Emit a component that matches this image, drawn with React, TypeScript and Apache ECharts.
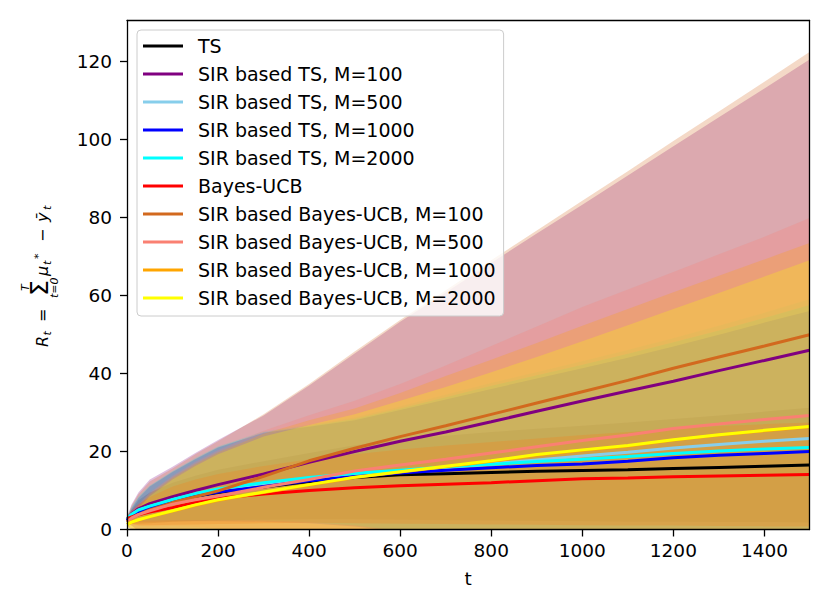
import React, { useEffect, useRef } from "react";
import * as echarts from "echarts";

// time steps
const T = [0, 10, 25, 50, 100, 150, 200, 300, 400, 500, 600, 700, 800, 900, 1000, 1100, 1200, 1300, 1400, 1499];
const X_TICKS = [0, 200, 400, 600, 800, 1000, 1200, 1400];
const Y_TICKS = [0, 20, 40, 60, 80, 100, 120];

const NAMES = [
  "TS",
  "SIR based TS, M=100",
  "SIR based TS, M=500",
  "SIR based TS, M=1000",
  "SIR based TS, M=2000",
  "Bayes-UCB",
  "SIR based Bayes-UCB, M=100",
  "SIR based Bayes-UCB, M=500",
  "SIR based Bayes-UCB, M=1000",
  "SIR based Bayes-UCB, M=2000",
];
const COLORS = ["#000000", "#800080", "#87CEEB", "#0000FF", "#00FFFF", "#FF0000", "#D2691E", "#FA8072", "#FFA500", "#FFFF00"];

// mean regret
const tsMean = [2.0, 3.4, 4.5, 5.5, 7.3, 8.5, 9.5, 10.9, 12.3, 13.3, 14.0, 14.3, 14.6, 14.9, 15.1, 15.3, 15.6, 15.9, 16.2, 16.5];
const sirTs100Mean = [2.5, 4.0, 5.3, 6.6, 8.4, 10.0, 11.5, 14.2, 17.2, 20.0, 22.6, 25.0, 27.6, 30.3, 32.9, 35.5, 38.0, 40.7, 43.3, 45.9];
const sirTs500Mean = [2.7, 3.8, 4.9, 5.9, 7.6, 8.9, 10.1, 11.8, 13.1, 14.2, 15.0, 15.9, 16.8, 17.8, 18.8, 19.8, 20.9, 21.8, 22.6, 23.3];
const sirTs1000Mean = [2.3, 3.5, 4.6, 5.6, 7.3, 8.5, 9.6, 11.0, 12.5, 13.6, 14.5, 15.2, 15.8, 16.4, 16.8, 17.5, 18.4, 19.0, 19.5, 20.0];
const sirTs2000Mean = [2.8, 3.9, 5.0, 6.0, 7.7, 9.2, 10.4, 12.0, 13.3, 14.4, 15.2, 16.0, 16.7, 17.4, 18.0, 18.7, 19.5, 20.1, 20.6, 21.0];
const bucbMean = [2.8, 3.2, 3.8, 4.5, 5.6, 7.0, 8.0, 9.1, 10.0, 10.7, 11.2, 11.6, 12.0, 12.5, 13.0, 13.2, 13.5, 13.7, 13.9, 14.1];
const sirBucb100Mean = [2.0, 2.9, 3.8, 5.0, 6.9, 8.4, 9.9, 13.6, 17.6, 20.8, 23.8, 26.6, 29.5, 32.4, 35.3, 38.2, 41.3, 44.2, 47.0, 49.9];
const sirBucb500Mean = [2.0, 2.9, 3.8, 4.8, 6.5, 7.6, 8.6, 10.8, 12.8, 15.0, 16.5, 18.0, 19.6, 21.2, 22.8, 24.2, 25.9, 27.0, 28.2, 29.2];
const sirBucb1000Mean = [1.3, 1.9, 2.5, 3.3, 4.7, 6.2, 7.5, 9.5, 11.4, 13.3, 14.7, 16.1, 17.5, 19.1, 20.3, 21.4, 22.9, 24.2, 25.3, 26.3];
const sirBucb2000Mean = [1.3, 1.9, 2.5, 3.3, 4.8, 6.3, 7.6, 9.6, 11.5, 13.4, 14.8, 16.2, 17.6, 19.2, 20.4, 21.5, 23.0, 24.3, 25.4, 26.4];

// upper edge of the shaded band
const tsUpper = [2.5, 5.0, 7.5, 9.5, 12.0, 13.8, 15.3, 17.5, 19.6, 21.6, 23.0, 24.0, 25.0, 25.8, 26.6, 27.4, 28.3, 29.2, 30.2, 31.2];
const sirTs100Upper = [3.2, 6.4, 9.5, 12.8, 16.1, 19.6, 22.9, 29.2, 36.9, 45.1, 53.2, 60.7, 68.3, 75.8, 83.2, 90.7, 98.2, 105.6, 113.0, 120.4];
const sirTs500Upper = [3.0, 5.8, 8.5, 11.3, 15.0, 18.4, 21.3, 25.2, 26.8, 28.7, 31.5, 34.5, 37.5, 40.3, 43.1, 46.0, 49.0, 52.2, 55.5, 59.0];
const sirTs1000Upper = [2.6, 5.4, 8.0, 11.0, 14.7, 18.0, 21.0, 24.8, 26.3, 28.0, 30.6, 33.3, 36.0, 38.7, 41.3, 44.0, 46.9, 49.9, 53.0, 56.0];
const sirTs2000Upper = [3.1, 5.7, 8.3, 11.2, 14.9, 18.2, 21.2, 25.0, 26.5, 28.3, 31.0, 33.9, 36.8, 39.5, 42.2, 45.0, 48.0, 51.0, 54.2, 57.5];
const bucbUpper = [3.5, 4.9, 6.5, 8.3, 11.0, 12.8, 14.2, 16.3, 18.0, 19.3, 20.5, 21.5, 22.4, 23.3, 24.2, 25.0, 25.8, 26.5, 27.0, 27.4];
const sirBucb100Upper = [3.0, 6.1, 9.0, 12.3, 15.6, 19.3, 22.6, 29.5, 37.3, 45.6, 53.7, 61.3, 69.0, 76.6, 84.2, 91.8, 99.5, 107.1, 114.7, 122.3];
const sirBucb500Upper = [2.5, 4.6, 6.5, 9.5, 13.8, 17.3, 20.3, 25.3, 29.3, 33.0, 37.3, 42.0, 47.0, 52.0, 57.0, 61.5, 66.0, 70.5, 75.0, 79.8];
const sirBucb1000Upper = [2.0, 4.1, 6.0, 9.0, 13.3, 16.8, 19.8, 24.5, 28.0, 31.0, 35.0, 39.3, 43.5, 47.8, 52.2, 56.5, 60.8, 65.0, 69.2, 73.4];
const sirBucb2000Upper = [2.0, 3.8, 5.5, 8.5, 12.8, 16.3, 19.3, 23.8, 26.8, 29.5, 33.0, 36.5, 40.3, 44.2, 48.2, 52.3, 56.5, 60.6, 64.8, 69.0];

// lower edge of the shaded band
const tsLower = [1.5, 1.5, 1.5, 1.6, 2.0, 2.2, 2.3, 2.5, 2.6, 2.6, 2.5, 2.4, 2.3, 2.2, 2.1, 2.0, 2.0, 1.9, 1.9, 1.8];
const sirTs100Lower = [1.8, 1.0, -0.4, -2.3, -3.2, -2.7, -1.8, -3.1, -4.9, -5.6, -8.0, -10.7, -13.1, -15.2, -17.4, -19.7, -22.2, -24.2, -26.4, -28.6];
const sirTs500Lower = [2.4, 2.3, 2.2, 2.2, 2.3, 2.3, 2.3, 2.2, 1.8, 1.0, -0.5, -2.0, -3.5, -5.0, -6.5, -8.0, -9.5, -10.5, -11.5, -12.5];
const sirTs1000Lower = [2.0, 2.0, 2.0, 2.0, 2.1, 2.1, 2.1, 2.0, 1.6, 0.8, -0.6, -2.2, -3.6, -5.2, -6.8, -8.4, -9.8, -11.0, -12.0, -13.0];
const sirTs2000Lower = [2.5, 2.4, 2.3, 2.3, 2.4, 2.4, 2.4, 2.3, 1.9, 1.1, -0.4, -1.9, -3.4, -4.9, -6.4, -7.8, -9.2, -10.4, -11.5, -12.8];
const bucbLower = [2.1, 1.5, 1.1, 1.1, 1.2, 1.3, 1.4, 1.6, 1.7, 1.6, 1.5, 1.4, 1.3, 1.2, 1.1, 1.0, 1.0, 0.9, 0.8, 0.8];
const sirBucb100Lower = [1.0, -0.3, -1.4, -2.3, -1.8, -2.5, -2.8, -2.3, -2.1, -4.0, -6.1, -8.1, -10.0, -11.8, -13.6, -15.4, -16.9, -18.7, -20.7, -22.5];
const sirBucb500Lower = [1.2, 1.1, 1.0, 0.8, 0.9, 0.7, 0.2, -0.4, -1.9, -2.5, -4.3, -6.0, -7.8, -9.6, -11.4, -13.1, -14.2, -16.5, -18.6, -21.4];
const sirBucb1000Lower = [0.6, 0.1, -0.5, -1.4, -1.5, -1.2, -1.0, -1.4, -2.2, -3.9, -5.6, -7.1, -8.5, -9.6, -11.6, -13.7, -15.0, -16.6, -18.6, -20.8];
const sirBucb2000Lower = [0.6, 0.3, 0.0, -0.9, -0.8, -0.3, -0.1, -0.2, -0.5, -2.2, -3.2, -4.1, -5.1, -5.8, -7.4, -9.3, -10.5, -12.0, -14.0, -16.2];

const MEANS = [tsMean, sirTs100Mean, sirTs500Mean, sirTs1000Mean, sirTs2000Mean, bucbMean, sirBucb100Mean, sirBucb500Mean, sirBucb1000Mean, sirBucb2000Mean];
const UPPERS = [tsUpper, sirTs100Upper, sirTs500Upper, sirTs1000Upper, sirTs2000Upper, bucbUpper, sirBucb100Upper, sirBucb500Upper, sirBucb1000Upper, sirBucb2000Upper];
const LOWERS = [tsLower, sirTs100Lower, sirTs500Lower, sirTs1000Lower, sirTs2000Lower, bucbLower, sirBucb100Lower, sirBucb500Lower, sirBucb1000Lower, sirBucb2000Lower];

const FONT = "DejaVu Sans";

function mt(text: string, x: number, base: number, size: number, italic: boolean) {
  return {
    type: "text",
    x,
    y: base - 0.35 * size,
    style: {
      text,
      font: `${italic ? "italic" : "normal"} normal ${size}px "DejaVu Sans"`,
      fill: "#000",
      align: "left",
      textAlign: "left",
      verticalAlign: "middle",
      textVerticalAlign: "middle",
    },
  };
}

export default function App() {
  const ref = useRef<HTMLDivElement>(null);
  useEffect(() => {
    if (!ref.current) return;
    const chart = echarts.init(ref.current, null, { renderer: "svg" });

    const bandSeries = NAMES.map((name, k) => ({
      name: name + " band",
      type: "custom",
      data: T.map((t, i) => [t, LOWERS[k][i], UPPERS[k][i]]),
      encode: { x: 0, y: [1, 2] },
      clip: true,
      silent: true,
      z: 1,
      renderItem: (params: any, api: any) => {
        if (params.dataIndex !== 0) return null;
        const pts: number[][] = [];
        for (let i = 0; i < T.length; i++) pts.push(api.coord([T[i], UPPERS[k][i]]));
        for (let i = T.length - 1; i >= 0; i--) pts.push(api.coord([T[i], LOWERS[k][i]]));
        return {
          type: "polygon",
          shape: { points: pts },
          style: { fill: COLORS[k], opacity: 0.25, stroke: "none" },
        };
      },
    }));
    const lineSeries = NAMES.map((name, k) => ({
      name,
      type: "line",
      data: T.map((t, i) => [t, MEANS[k][i]]),
      symbol: "none",
      showSymbol: false,
      lineStyle: { color: COLORS[k], width: 3 },
      itemStyle: { color: COLORS[k] },
      z: 2,
    }));

    const axisLine = { show: true, onZero: false, lineStyle: { color: "#000", width: 1.3 } };
    const labelStyle = { fontSize: 18.5, fontFamily: FONT, color: "#000", formatter: (v: number) => String(v) };

    chart.setOption({
      animation: false,
      grid: { left: 127, right: 21.5, top: 20.5, bottom: 72.5, containLabel: false },
      xAxis: [
        {
          type: "value",
          min: 0,
          max: 1499,
          interval: 200,
          axisLine,
          axisTick: { show: true, length: 7, lineStyle: { color: "#000", width: 1.3 }, customValues: X_TICKS },
          axisLabel: { ...labelStyle, margin: 11, customValues: X_TICKS },
          splitLine: { show: false },
          z: 10,
        },
        {
          type: "value",
          position: "top",
          min: 0,
          max: 1499,
          axisLine,
          axisTick: { show: false },
          axisLabel: { show: false },
          splitLine: { show: false },
          z: 10,
        },
      ],
      yAxis: [
        {
          type: "value",
          min: 0,
          max: 130.4,
          interval: 20,
          axisLine,
          axisTick: { show: true, length: 7, lineStyle: { color: "#000", width: 1.3 }, customValues: Y_TICKS },
          axisLabel: { ...labelStyle, margin: 15, customValues: Y_TICKS },
          splitLine: { show: false },
          z: 10,
        },
        {
          type: "value",
          position: "right",
          min: 0,
          max: 130.4,
          axisLine,
          axisTick: { show: false },
          axisLabel: { show: false },
          splitLine: { show: false },
          z: 10,
        },
      ],
      legend: {
        data: NAMES,
        orient: "vertical",
        left: 137,
        top: 30,
        icon: "rect",
        itemWidth: 40,
        itemHeight: 3,
        itemGap: 8,
        padding: [6, 8, 8, 6],
        backgroundColor: "rgba(255,255,255,0.8)",
        borderColor: "#cccccc",
        borderWidth: 1,
        borderRadius: 4,
        selectedMode: false,
        textStyle: { fontSize: 19, fontFamily: FONT, color: "#000", lineHeight: 20, padding: [0, 0, 0, 10] },
        z: 20,
      },
      graphic: [
        {
          type: "text",
          x: 468,
          y: 578,
          style: {
            text: "t",
            font: 'normal normal 18.5px "DejaVu Sans"',
            fill: "#000",
            align: "center",
            textAlign: "center",
            verticalAlign: "middle",
            textVerticalAlign: "middle",
          },
        },
        {
          type: "group",
          x: 48,
          y: 347,
          rotation: Math.PI / 2,
          children: [
            mt("R", 0, 0, 16, true),
            mt("t", 11.5, 3, 11, true),
            mt("=", 25, 0, 16, false),
            mt("\u03A3", 51, 0, 25, false),
            mt("T", 56, -19, 11, true),
            mt("t=0", 49, 10, 11, true),
            mt("\u03BC", 71, 0, 16, true),
            mt("t", 82, 3, 11, true),
            mt("*", 88, -6, 11, false),
            mt("\u2212", 105, 0, 16, false),
            mt("\u0233", 125, 0, 16, true),
            mt("t", 137, 3, 11, true),
          ],
        },
      ],
      series: [...bandSeries, ...lineSeries],
    });
    return () => chart.dispose();
  }, []);
  return <div ref={ref} style={{ position: "absolute", left: 0, top: 0, width: 831, height: 602 }} />;
}
